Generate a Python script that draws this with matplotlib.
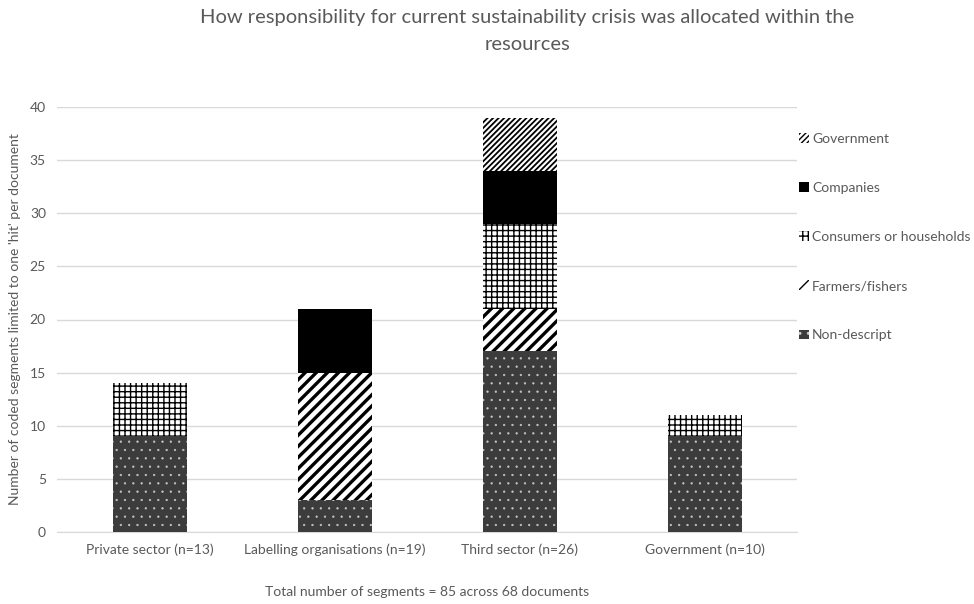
import numpy as np
import matplotlib
matplotlib.use('Agg')
import matplotlib.pyplot as plt

plt.rcParams['font.family'] = ['Lato', 'DejaVu Sans']

# data
categories = ['Private sector (n=13)', 'Labelling organisations (n=19)',
              'Third sector (n=26)', 'Government (n=10)']
non_descript = [9, 3, 17, 9]
farmers = [0, 12, 4, 0]
consumers = [5, 0, 8, 2]
companies = [0, 6, 5, 0]
government = [0, 0, 5, 0]

series = [
    ('Non-descript', non_descript, '#3c3c3c', '#c8c8c8', '..', 0.4),
    ('Farmers/fishers', farmers, 'white', 'black', '///', 2.4),
    ('Consumers or households', consumers, 'white', 'black', '+++', 1.0),
    ('Companies', companies, 'black', 'black', '', 1.0),
    ('Government', government, 'white', 'black', '//////', 1.3),
]

txt = '#595959'
fig = plt.figure(figsize=(9.74, 6.04), dpi=100)
ax = fig.add_axes([57/974, 72/604, 740/974, 425/604])

x = np.arange(len(categories))
bottom = np.zeros(len(categories))
handles = []
for name, vals, fc, hc, hatch, hlw in series:
    vals = np.array(vals, dtype=float)
    with plt.rc_context({'hatch.linewidth': hlw}):
        bars = ax.bar(x, vals, 0.4, bottom=bottom, color=fc, edgecolor=hc,
                      hatch=hatch, linewidth=0, label=name, zorder=3)
        for b in bars:
            if hasattr(b, 'set_hatch_linewidth'):
                b.set_hatch_linewidth(hlw)
    handles.append(bars)
    bottom += vals

ax.set_xlim(-0.5, len(categories) - 0.5)
ax.set_ylim(0, 40)
ax.set_yticks(range(0, 41, 5))
ax.set_xticks(x)
ax.set_xticklabels(categories)
ax.grid(axis='y', color='#d9d9d9', linewidth=1, zorder=0)
for s in ['top', 'right', 'left']:
    ax.spines[s].set_visible(False)
ax.spines['bottom'].set_color('#d9d9d9')
ax.tick_params(length=0, colors=txt, labelsize=10, pad=8)

ax.set_ylabel("Number of coded segments limited to one 'hit' per document",
              color=txt, fontsize=10, labelpad=6)
ax.set_xlabel('Total number of segments = 85 across 68 documents',
              color=txt, fontsize=10, labelpad=22)

fig.text(527/974, 1 - 9/604,
         'How responsibility for current sustainability crisis was allocated within the\nresources',
         ha='center', va='top', fontsize=14.5, color=txt, linespacing=1.7)

leg = ax.legend(handles[::-1], [s[0] for s in series][::-1],
                loc='upper left', bbox_to_anchor=(0.995, 0.953), frameon=False,
                handlelength=0.7, handleheight=0.7, handletextpad=0.25,
                labelspacing=2.68, fontsize=10, borderaxespad=0.0)
for t in leg.get_texts():
    t.set_color(txt)

fig.savefig('out.png', dpi=100)
